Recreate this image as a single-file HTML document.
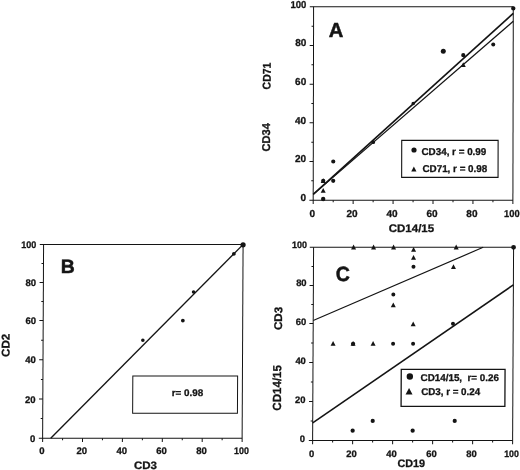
<!DOCTYPE html>
<html><head><meta charset="utf-8"><title>Figure</title>
<style>
html,body{margin:0;padding:0;background:#fff;}
body{width:520px;height:470px;overflow:hidden;}
svg{display:block;}
svg text{font-family:"Liberation Sans",sans-serif;fill:#141414;stroke:#141414;stroke-width:0.3px;}
</style></head><body>
<svg width="520" height="470" viewBox="0 0 520 470">
<rect x="0" y="0" width="520" height="470" fill="#ffffff"/>
<g transform="matrix(1 0 -0.002 1 0.206 0)">
<line x1="309.60" y1="6.80" x2="513.10" y2="6.80" stroke="#141414" stroke-width="1.0" stroke-linecap="butt"/>
<line x1="313.40" y1="6.80" x2="313.40" y2="204.00" stroke="#141414" stroke-width="1.0" stroke-linecap="butt"/>
<line x1="309.60" y1="200.20" x2="513.10" y2="200.20" stroke="#141414" stroke-width="1.0" stroke-linecap="butt"/>
<line x1="513.10" y1="6.80" x2="513.10" y2="204.00" stroke="#141414" stroke-width="1.0" stroke-linecap="butt"/>
<line x1="311.40" y1="180.86" x2="313.40" y2="180.86" stroke="#141414" stroke-width="1.0" stroke-linecap="butt"/>
<line x1="333.37" y1="200.20" x2="333.37" y2="202.20" stroke="#141414" stroke-width="1.0" stroke-linecap="butt"/>
<line x1="309.60" y1="161.52" x2="313.40" y2="161.52" stroke="#141414" stroke-width="1.0" stroke-linecap="butt"/>
<line x1="353.34" y1="200.20" x2="353.34" y2="204.00" stroke="#141414" stroke-width="1.0" stroke-linecap="butt"/>
<line x1="311.40" y1="142.18" x2="313.40" y2="142.18" stroke="#141414" stroke-width="1.0" stroke-linecap="butt"/>
<line x1="373.31" y1="200.20" x2="373.31" y2="202.20" stroke="#141414" stroke-width="1.0" stroke-linecap="butt"/>
<line x1="309.60" y1="122.84" x2="313.40" y2="122.84" stroke="#141414" stroke-width="1.0" stroke-linecap="butt"/>
<line x1="393.28" y1="200.20" x2="393.28" y2="204.00" stroke="#141414" stroke-width="1.0" stroke-linecap="butt"/>
<line x1="311.40" y1="103.50" x2="313.40" y2="103.50" stroke="#141414" stroke-width="1.0" stroke-linecap="butt"/>
<line x1="413.25" y1="200.20" x2="413.25" y2="202.20" stroke="#141414" stroke-width="1.0" stroke-linecap="butt"/>
<line x1="309.60" y1="84.16" x2="313.40" y2="84.16" stroke="#141414" stroke-width="1.0" stroke-linecap="butt"/>
<line x1="433.22" y1="200.20" x2="433.22" y2="204.00" stroke="#141414" stroke-width="1.0" stroke-linecap="butt"/>
<line x1="311.40" y1="64.82" x2="313.40" y2="64.82" stroke="#141414" stroke-width="1.0" stroke-linecap="butt"/>
<line x1="453.19" y1="200.20" x2="453.19" y2="202.20" stroke="#141414" stroke-width="1.0" stroke-linecap="butt"/>
<line x1="309.60" y1="45.48" x2="313.40" y2="45.48" stroke="#141414" stroke-width="1.0" stroke-linecap="butt"/>
<line x1="473.16" y1="200.20" x2="473.16" y2="204.00" stroke="#141414" stroke-width="1.0" stroke-linecap="butt"/>
<line x1="311.40" y1="26.14" x2="313.40" y2="26.14" stroke="#141414" stroke-width="1.0" stroke-linecap="butt"/>
<line x1="493.13" y1="200.20" x2="493.13" y2="202.20" stroke="#141414" stroke-width="1.0" stroke-linecap="butt"/>
<text x="306.20" y="201.10" font-size="10.0" text-anchor="end" font-weight="bold">0</text>
<text x="312.40" y="217.20" font-size="10.0" text-anchor="middle" font-weight="bold">0</text>
<text x="306.20" y="162.42" font-size="10.0" text-anchor="end" font-weight="bold">20</text>
<text x="352.34" y="217.20" font-size="10.0" text-anchor="middle" font-weight="bold">20</text>
<text x="306.20" y="123.74" font-size="10.0" text-anchor="end" font-weight="bold">40</text>
<text x="392.28" y="217.20" font-size="10.0" text-anchor="middle" font-weight="bold">40</text>
<text x="306.20" y="85.06" font-size="10.0" text-anchor="end" font-weight="bold">60</text>
<text x="432.22" y="217.20" font-size="10.0" text-anchor="middle" font-weight="bold">60</text>
<text x="306.20" y="46.38" font-size="10.0" text-anchor="end" font-weight="bold">80</text>
<text x="472.16" y="217.20" font-size="10.0" text-anchor="middle" font-weight="bold">80</text>
<text x="306.20" y="7.70" font-size="10.0" text-anchor="end" font-weight="bold" textLength="15.85" lengthAdjust="spacingAndGlyphs">100</text>
<text x="512.10" y="217.20" font-size="10.0" text-anchor="middle" font-weight="bold" textLength="15.51" lengthAdjust="spacingAndGlyphs">100</text>
<text x="328.70" y="37.10" font-size="20.4" text-anchor="start" font-weight="bold" textLength="14.6" lengthAdjust="spacingAndGlyphs" style="stroke-width:0.5px">A</text>
<line x1="313.40" y1="194.40" x2="513.10" y2="13.30" stroke="#141414" stroke-width="1.65" stroke-linecap="butt"/>
<line x1="313.40" y1="194.40" x2="513.10" y2="21.30" stroke="#141414" stroke-width="1.25" stroke-linecap="butt"/>
<circle cx="323.38" cy="199.04" r="2.2" fill="#141414"/>
<circle cx="323.38" cy="180.86" r="2.1" fill="#141414"/>
<circle cx="333.37" cy="180.86" r="2.1" fill="#141414"/>
<circle cx="333.37" cy="161.52" r="2.1" fill="#141414"/>
<circle cx="373.31" cy="142.18" r="1.9" fill="#141414"/>
<circle cx="413.25" cy="103.50" r="1.8" fill="#141414"/>
<circle cx="443.21" cy="51.28" r="2.5" fill="#141414"/>
<circle cx="463.18" cy="55.15" r="2.1" fill="#141414"/>
<circle cx="493.13" cy="44.51" r="2.0" fill="#141414"/>
<circle cx="513.10" cy="8.35" r="2.2" fill="#141414"/>
<polygon points="323.38,187.93 325.88,192.73 320.88,192.73" fill="#141414"/>
<polygon points="463.18,62.22 465.68,67.02 460.68,67.02" fill="#141414"/>
<polygon points="323.38,178.26 325.88,183.06 320.88,183.06" fill="#141414"/>
<rect x="401.8" y="140.4" width="96.4" height="37.0" fill="none" stroke="#141414" stroke-width="1.1"/>
<circle cx="414.10" cy="150.00" r="2.6" fill="#141414"/>
<polygon points="414.00,166.60 416.60,171.60 411.40,171.60" fill="#141414"/>
<text x="421.60" y="155.30" font-size="9.9" text-anchor="start" font-weight="bold" textLength="64.8" lengthAdjust="spacingAndGlyphs">CD34, r = 0.99</text>
<text x="422.60" y="172.30" font-size="9.9" text-anchor="start" font-weight="bold" textLength="64.8" lengthAdjust="spacingAndGlyphs">CD71, r = 0.98</text>
<text x="389.00" y="231.80" font-size="11" text-anchor="start" font-weight="bold" textLength="45.4" lengthAdjust="spacingAndGlyphs">CD14/15</text>
<text x="270.60" y="89.40" font-size="11.3" text-anchor="start" font-weight="bold" textLength="26.8" lengthAdjust="spacingAndGlyphs" transform="rotate(-90 270.60 89.40)">CD71</text>
<text x="270.00" y="151.50" font-size="11.3" text-anchor="start" font-weight="bold" textLength="28.5" lengthAdjust="spacingAndGlyphs" transform="rotate(-90 270.00 151.50)">CD34</text>
</g>
<g transform="matrix(1 0 -0.005 1 1.705 0)">
<line x1="39.30" y1="244.40" x2="242.60" y2="244.40" stroke="#141414" stroke-width="1.0" stroke-linecap="butt"/>
<line x1="43.10" y1="244.40" x2="43.10" y2="442.00" stroke="#141414" stroke-width="1.0" stroke-linecap="butt"/>
<line x1="39.30" y1="438.20" x2="242.60" y2="438.20" stroke="#141414" stroke-width="1.0" stroke-linecap="butt"/>
<line x1="242.60" y1="244.40" x2="242.60" y2="442.00" stroke="#141414" stroke-width="1.0" stroke-linecap="butt"/>
<line x1="41.10" y1="418.60" x2="43.10" y2="418.60" stroke="#141414" stroke-width="1.0" stroke-linecap="butt"/>
<line x1="63.05" y1="438.20" x2="63.05" y2="440.20" stroke="#141414" stroke-width="1.0" stroke-linecap="butt"/>
<line x1="39.30" y1="399.00" x2="43.10" y2="399.00" stroke="#141414" stroke-width="1.0" stroke-linecap="butt"/>
<line x1="83.00" y1="438.20" x2="83.00" y2="442.00" stroke="#141414" stroke-width="1.0" stroke-linecap="butt"/>
<line x1="41.10" y1="379.40" x2="43.10" y2="379.40" stroke="#141414" stroke-width="1.0" stroke-linecap="butt"/>
<line x1="102.95" y1="438.20" x2="102.95" y2="440.20" stroke="#141414" stroke-width="1.0" stroke-linecap="butt"/>
<line x1="39.30" y1="359.80" x2="43.10" y2="359.80" stroke="#141414" stroke-width="1.0" stroke-linecap="butt"/>
<line x1="122.90" y1="438.20" x2="122.90" y2="442.00" stroke="#141414" stroke-width="1.0" stroke-linecap="butt"/>
<line x1="41.10" y1="340.20" x2="43.10" y2="340.20" stroke="#141414" stroke-width="1.0" stroke-linecap="butt"/>
<line x1="142.85" y1="438.20" x2="142.85" y2="440.20" stroke="#141414" stroke-width="1.0" stroke-linecap="butt"/>
<line x1="39.30" y1="320.60" x2="43.10" y2="320.60" stroke="#141414" stroke-width="1.0" stroke-linecap="butt"/>
<line x1="162.80" y1="438.20" x2="162.80" y2="442.00" stroke="#141414" stroke-width="1.0" stroke-linecap="butt"/>
<line x1="41.10" y1="301.55" x2="43.10" y2="301.55" stroke="#141414" stroke-width="1.0" stroke-linecap="butt"/>
<line x1="182.75" y1="438.20" x2="182.75" y2="440.20" stroke="#141414" stroke-width="1.0" stroke-linecap="butt"/>
<line x1="39.30" y1="282.50" x2="43.10" y2="282.50" stroke="#141414" stroke-width="1.0" stroke-linecap="butt"/>
<line x1="202.70" y1="438.20" x2="202.70" y2="442.00" stroke="#141414" stroke-width="1.0" stroke-linecap="butt"/>
<line x1="41.10" y1="263.45" x2="43.10" y2="263.45" stroke="#141414" stroke-width="1.0" stroke-linecap="butt"/>
<line x1="222.65" y1="438.20" x2="222.65" y2="440.20" stroke="#141414" stroke-width="1.0" stroke-linecap="butt"/>
<text x="35.90" y="441.90" font-size="9.5" text-anchor="end" font-weight="bold">0</text>
<text x="42.50" y="454.10" font-size="9.5" text-anchor="middle" font-weight="bold">0</text>
<text x="35.90" y="402.70" font-size="9.5" text-anchor="end" font-weight="bold">20</text>
<text x="82.40" y="454.10" font-size="9.5" text-anchor="middle" font-weight="bold">20</text>
<text x="35.90" y="363.50" font-size="9.5" text-anchor="end" font-weight="bold">40</text>
<text x="122.30" y="454.10" font-size="9.5" text-anchor="middle" font-weight="bold">40</text>
<text x="35.90" y="324.30" font-size="9.5" text-anchor="end" font-weight="bold">60</text>
<text x="162.20" y="454.10" font-size="9.5" text-anchor="middle" font-weight="bold">60</text>
<text x="35.90" y="286.20" font-size="9.5" text-anchor="end" font-weight="bold">80</text>
<text x="202.10" y="454.10" font-size="9.5" text-anchor="middle" font-weight="bold">80</text>
<text x="35.90" y="248.10" font-size="9.5" text-anchor="end" font-weight="bold" textLength="15.05" lengthAdjust="spacingAndGlyphs">100</text>
<text x="242.00" y="454.10" font-size="9.5" text-anchor="middle" font-weight="bold" textLength="14.74" lengthAdjust="spacingAndGlyphs">100</text>
<text x="60.40" y="272.60" font-size="19.2" text-anchor="start" font-weight="bold" textLength="14.0" lengthAdjust="spacingAndGlyphs" style="stroke-width:0.5px">B</text>
<line x1="51.20" y1="438.20" x2="242.50" y2="244.60" stroke="#141414" stroke-width="1.35" stroke-linecap="butt"/>
<circle cx="142.85" cy="340.20" r="1.8" fill="#141414"/>
<circle cx="182.75" cy="320.60" r="1.9" fill="#141414"/>
<circle cx="193.32" cy="292.03" r="1.8" fill="#141414"/>
<circle cx="233.42" cy="253.93" r="1.9" fill="#141414"/>
<circle cx="242.60" cy="244.78" r="2.6" fill="#141414"/>
<rect x="133.0" y="376.1" width="104.8" height="37.1" fill="none" stroke="#141414" stroke-width="1.0"/>
<text x="172.00" y="396.20" font-size="9.5" text-anchor="start" font-weight="bold" textLength="31.4" lengthAdjust="spacingAndGlyphs">r= 0.98</text>
<text x="134.60" y="468.70" font-size="10.8" text-anchor="start" font-weight="bold" textLength="23" lengthAdjust="spacingAndGlyphs">CD3</text>
<text x="9.60" y="356.90" font-size="11.2" text-anchor="start" font-weight="bold" textLength="23.2" lengthAdjust="spacingAndGlyphs" transform="rotate(-90 9.60 356.90)">CD2</text>
</g>
<g transform="matrix(1 0 -0.005 1 1.715 0)">
<line x1="309.30" y1="247.30" x2="513.10" y2="247.30" stroke="#141414" stroke-width="1.0" stroke-linecap="butt"/>
<line x1="313.10" y1="247.30" x2="313.10" y2="444.20" stroke="#141414" stroke-width="1.0" stroke-linecap="butt"/>
<line x1="309.30" y1="440.40" x2="513.10" y2="440.40" stroke="#141414" stroke-width="1.0" stroke-linecap="butt"/>
<line x1="513.10" y1="247.30" x2="513.10" y2="444.20" stroke="#141414" stroke-width="1.0" stroke-linecap="butt"/>
<line x1="311.10" y1="420.93" x2="313.10" y2="420.93" stroke="#141414" stroke-width="1.0" stroke-linecap="butt"/>
<line x1="333.10" y1="440.40" x2="333.10" y2="442.40" stroke="#141414" stroke-width="1.0" stroke-linecap="butt"/>
<line x1="309.30" y1="401.47" x2="313.10" y2="401.47" stroke="#141414" stroke-width="1.0" stroke-linecap="butt"/>
<line x1="353.10" y1="440.40" x2="353.10" y2="444.20" stroke="#141414" stroke-width="1.0" stroke-linecap="butt"/>
<line x1="311.10" y1="382.00" x2="313.10" y2="382.00" stroke="#141414" stroke-width="1.0" stroke-linecap="butt"/>
<line x1="373.10" y1="440.40" x2="373.10" y2="442.40" stroke="#141414" stroke-width="1.0" stroke-linecap="butt"/>
<line x1="309.30" y1="362.53" x2="313.10" y2="362.53" stroke="#141414" stroke-width="1.0" stroke-linecap="butt"/>
<line x1="393.10" y1="440.40" x2="393.10" y2="444.20" stroke="#141414" stroke-width="1.0" stroke-linecap="butt"/>
<line x1="311.10" y1="343.07" x2="313.10" y2="343.07" stroke="#141414" stroke-width="1.0" stroke-linecap="butt"/>
<line x1="413.10" y1="440.40" x2="413.10" y2="442.40" stroke="#141414" stroke-width="1.0" stroke-linecap="butt"/>
<line x1="309.30" y1="323.60" x2="313.10" y2="323.60" stroke="#141414" stroke-width="1.0" stroke-linecap="butt"/>
<line x1="433.10" y1="440.40" x2="433.10" y2="444.20" stroke="#141414" stroke-width="1.0" stroke-linecap="butt"/>
<line x1="311.10" y1="304.53" x2="313.10" y2="304.53" stroke="#141414" stroke-width="1.0" stroke-linecap="butt"/>
<line x1="453.10" y1="440.40" x2="453.10" y2="442.40" stroke="#141414" stroke-width="1.0" stroke-linecap="butt"/>
<line x1="309.30" y1="285.45" x2="313.10" y2="285.45" stroke="#141414" stroke-width="1.0" stroke-linecap="butt"/>
<line x1="473.10" y1="440.40" x2="473.10" y2="444.20" stroke="#141414" stroke-width="1.0" stroke-linecap="butt"/>
<line x1="311.10" y1="266.38" x2="313.10" y2="266.38" stroke="#141414" stroke-width="1.0" stroke-linecap="butt"/>
<line x1="493.10" y1="440.40" x2="493.10" y2="442.40" stroke="#141414" stroke-width="1.0" stroke-linecap="butt"/>
<text x="305.60" y="441.90" font-size="9.4" text-anchor="end" font-weight="bold">0</text>
<text x="312.10" y="457.00" font-size="9.4" text-anchor="middle" font-weight="bold">0</text>
<text x="305.78" y="402.81" font-size="9.4" text-anchor="end" font-weight="bold">20</text>
<text x="352.10" y="457.00" font-size="9.4" text-anchor="middle" font-weight="bold">20</text>
<text x="305.96" y="363.71" font-size="9.4" text-anchor="end" font-weight="bold">40</text>
<text x="392.10" y="457.00" font-size="9.4" text-anchor="middle" font-weight="bold">40</text>
<text x="306.14" y="324.62" font-size="9.4" text-anchor="end" font-weight="bold">60</text>
<text x="432.10" y="457.00" font-size="9.4" text-anchor="middle" font-weight="bold">60</text>
<text x="306.32" y="286.31" font-size="9.4" text-anchor="end" font-weight="bold">80</text>
<text x="472.10" y="457.00" font-size="9.4" text-anchor="middle" font-weight="bold">80</text>
<text x="306.50" y="248.00" font-size="9.4" text-anchor="end" font-weight="bold" textLength="14.9" lengthAdjust="spacingAndGlyphs">100</text>
<text x="512.10" y="457.00" font-size="9.4" text-anchor="middle" font-weight="bold" textLength="14.58" lengthAdjust="spacingAndGlyphs">100</text>
<text x="335.40" y="280.90" font-size="20.6" text-anchor="start" font-weight="bold" textLength="14.1" lengthAdjust="spacingAndGlyphs" style="stroke-width:0.5px">C</text>
<line x1="313.10" y1="320.55" x2="482.70" y2="247.30" stroke="#141414" stroke-width="1.2" stroke-linecap="butt"/>
<line x1="313.10" y1="422.88" x2="513.10" y2="284.88" stroke="#141414" stroke-width="1.6" stroke-linecap="butt"/>
<circle cx="353.10" cy="430.67" r="2.1" fill="#141414"/>
<circle cx="373.10" cy="420.93" r="2.1" fill="#141414"/>
<circle cx="413.10" cy="430.67" r="2.1" fill="#141414"/>
<circle cx="455.10" cy="420.93" r="2.1" fill="#141414"/>
<circle cx="353.10" cy="343.85" r="2.1" fill="#141414"/>
<circle cx="393.10" cy="343.85" r="2.0" fill="#141414"/>
<circle cx="413.10" cy="343.85" r="2.0" fill="#141414"/>
<circle cx="452.90" cy="323.79" r="2.0" fill="#141414"/>
<circle cx="393.10" cy="294.42" r="2.0" fill="#141414"/>
<circle cx="413.10" cy="266.76" r="2.0" fill="#141414"/>
<circle cx="513.10" cy="247.30" r="2.4" fill="#141414"/>
<polygon points="333.10,341.05 335.60,345.85 330.60,345.85" fill="#141414"/>
<polygon points="353.10,341.05 355.60,345.85 350.60,345.85" fill="#141414"/>
<polygon points="373.10,341.05 375.60,345.85 370.60,345.85" fill="#141414"/>
<polygon points="413.10,321.48 415.60,326.28 410.60,326.28" fill="#141414"/>
<polygon points="393.10,302.40 395.60,307.20 390.60,307.20" fill="#141414"/>
<polygon points="413.10,254.90 415.60,259.70 410.60,259.70" fill="#141414"/>
<polygon points="413.10,246.89 415.60,251.69 410.60,251.69" fill="#141414"/>
<polygon points="453.10,264.25 455.60,269.05 450.60,269.05" fill="#141414"/>
<polygon points="353.10,244.60 355.60,249.40 350.60,249.40" fill="#141414"/>
<polygon points="373.10,244.60 375.60,249.40 370.60,249.40" fill="#141414"/>
<polygon points="393.10,244.60 395.60,249.40 390.60,249.40" fill="#141414"/>
<polygon points="455.70,244.60 458.20,249.40 453.20,249.40" fill="#141414"/>
<rect x="401.4" y="369.4" width="103.8" height="37.0" fill="none" stroke="#141414" stroke-width="1.3"/>
<circle cx="410.00" cy="376.50" r="3.2" fill="#141414"/>
<polygon points="409.30,388.10 412.80,394.50 405.80,394.50" fill="#141414"/>
<text x="420.80" y="380.80" font-size="9.8" text-anchor="start" font-weight="bold" textLength="78.3" lengthAdjust="spacingAndGlyphs">CD14/15,&#160; r= 0.26</text>
<text x="421.40" y="394.70" font-size="9.8" text-anchor="start" font-weight="bold" textLength="59.0" lengthAdjust="spacingAndGlyphs">CD3, r = 0.24</text>
<text x="398.00" y="467.40" font-size="10.8" text-anchor="start" font-weight="bold" textLength="27.6" lengthAdjust="spacingAndGlyphs">CD19</text>
<text x="282.00" y="330.10" font-size="11.2" text-anchor="start" font-weight="bold" textLength="23.3" lengthAdjust="spacingAndGlyphs" transform="rotate(-90 282.00 330.10)">CD3</text>
<text x="281.30" y="410.70" font-size="11.8" text-anchor="start" font-weight="bold" textLength="45.7" lengthAdjust="spacingAndGlyphs" transform="rotate(-90 281.30 410.70)">CD14/15</text>
</g>
</svg>
</body></html>
